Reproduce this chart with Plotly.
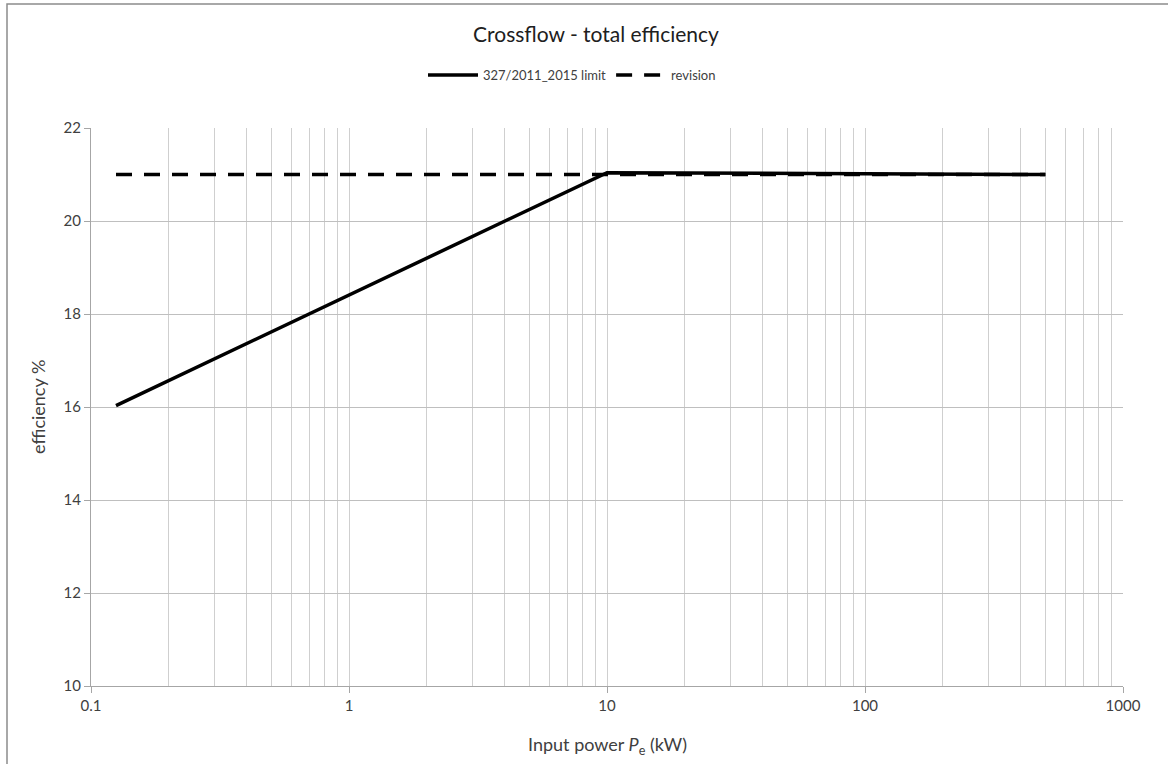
import plotly.graph_objects as go

# Input power (kW) and efficiency (%) for each curve
limit_power = [0.125, 10, 500]
limit_eff = [16.03, 21.04, 21.0]

revision_power = [0.125, 500]
revision_eff = [21.0, 21.0]

y_ticks = [10, 12, 14, 16, 18, 20, 22]
x_major = [0.1, 1, 10, 100, 1000]
x_major_text = ["0.1", "1", "10", "100", "1000"]
x_minor = [m * d for d in [0.1, 1, 10, 100] for m in range(2, 10)]

FONT = "Lato, 'Open Sans', sans-serif"
TXT = "#404040"
GRID = "#cfcfcf"

fig = go.Figure()
fig.add_trace(go.Scatter(
    x=limit_power, y=limit_eff, mode="lines", name="327/2011_2015 limit",
    line=dict(color="black", width=3.5),
))
fig.add_trace(go.Scatter(
    x=revision_power, y=revision_eff, mode="lines", name="revision",
    line=dict(color="black", width=3.5, dash="16px,12px"),
))

W, H = 1168, 764
L, R, T, B = 91, 1123, 128, 686
pw, ph = R - L, B - T


def px(xp):
    return (xp - L) / pw


def py(yp):
    return (B - yp) / ph


fig.update_layout(
    width=W, height=H,
    margin=dict(l=L, r=W - R, t=T, b=H - B),
    paper_bgcolor="white", plot_bgcolor="white",
    font=dict(family=FONT, color=TXT, size=14),
    title=dict(text="Crossflow - total efficiency", x=px(596), xanchor="center",
               xref="paper", y=1 - 35 / H, yanchor="middle", yref="container",
               font=dict(size=21, color="#202020")),
    legend=dict(orientation="h", x=px(423), xanchor="left", y=py(75), yanchor="middle",
                font=dict(size=13, color=TXT), bgcolor="rgba(0,0,0,0)",
                itemwidth=50, tracegroupgap=0),
    showlegend=True,
    xaxis=dict(type="log", range=[-1, 3], tickvals=x_major, ticktext=x_major_text,
               showgrid=True, gridcolor=GRID, gridwidth=1,
               minor=dict(tickvals=x_minor, showgrid=True, gridcolor=GRID, gridwidth=1, ticks=""),
               showline=True, linecolor="#a6a6a6", linewidth=1,
               ticks="outside", ticklen=6, tickcolor="#a6a6a6",
               tickfont=dict(size=15, color=TXT), zeroline=False, mirror=False),
    yaxis=dict(range=[10, 22], tickvals=y_ticks, showgrid=True, gridcolor="#bfbfbf",
               gridwidth=1, showline=True, linecolor="#a6a6a6", linewidth=1,
               ticks="outside", ticklen=6, tickcolor="#a6a6a6",
               tickfont=dict(size=15, color=TXT), zeroline=False),
)

# Axis titles
fig.add_annotation(text="efficiency %", x=px(38), y=py(407), xref="paper", yref="paper",
                   xanchor="center", yanchor="middle",
                   textangle=-90, showarrow=False, font=dict(size=18, color=TXT))
fig.add_annotation(text="Input power <i>P</i><sub>e</sub> (kW)", x=px(607), y=py(745),
                   xref="paper", yref="paper", xanchor="center", yanchor="middle",
                   showarrow=False, font=dict(size=18, color=TXT))

# Chart frame on the top and left edges
fig.add_shape(type="path", xref="paper", yref="paper",
              path=f"M {px(7)} {py(H + 5)} L {px(7)} {py(4)} L {px(W + 5)} {py(4)}",
              line=dict(color="#8c8c8c", width=1.5))

fig.write_html("out.html")
